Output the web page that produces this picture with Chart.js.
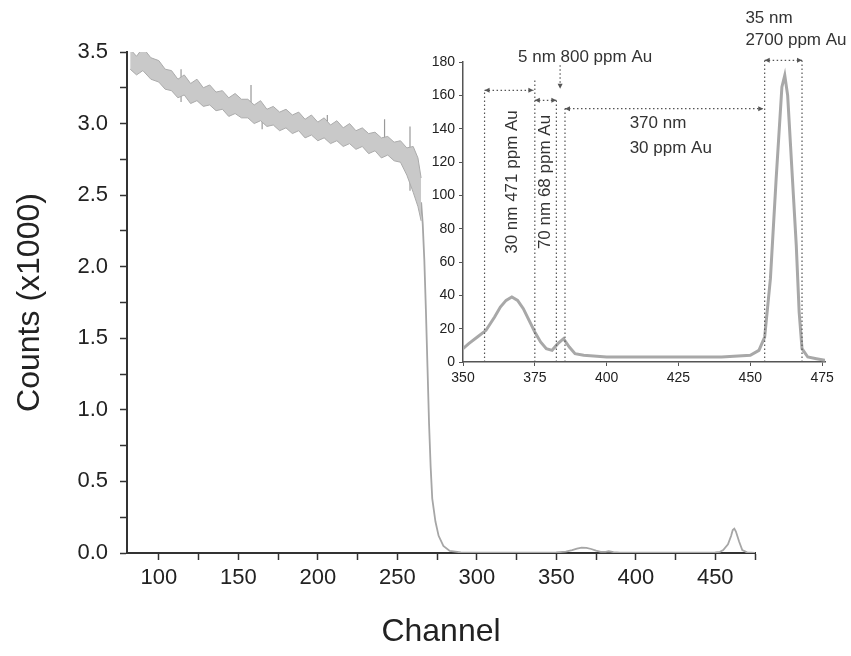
<!DOCTYPE html>
<html><head><meta charset="utf-8">
<script src="https://cdn.jsdelivr.net/npm/chart.js@4/dist/chart.umd.min.js"></script>
<style>
html,body{margin:0;padding:0;background:#fff;}
#wrap{position:relative;width:851px;height:656px;overflow:hidden;}
#main{position:absolute;left:0;top:0;}
#inset{position:absolute;left:400px;top:0;}
</style></head><body>
<div id="wrap">
<canvas id="main" width="851" height="656"></canvas>
<canvas id="inset" width="451" height="400"></canvas>
</div>
<script>
// ---------- main spectrum (Counts x1000 vs Channel) ----------
// noisy region drawn as a band: upper / lower envelope of the scatter
const bandChannels = [82,86,90,95,100,104,108,112,116,120,124,128,132,136,140,144,148,152,156,160,164,168,172,176,180,184,188,192,196,200,204,208,212,216,220,224,228,232,236,240,244,248,252,256,260,263,265];
const bandUpper    = [3.52,3.47,3.53,3.46,3.44,3.38,3.37,3.31,3.34,3.28,3.31,3.25,3.27,3.22,3.23,3.18,3.21,3.17,3.17,3.13,3.16,3.10,3.12,3.08,3.10,3.06,3.08,3.03,3.06,3.01,3.04,2.99,3.02,2.97,3.00,2.95,2.97,2.93,2.94,2.90,2.91,2.87,2.88,2.83,2.84,2.76,2.62];
const bandLower    = [3.38,3.34,3.37,3.31,3.29,3.24,3.23,3.18,3.20,3.14,3.16,3.12,3.13,3.09,3.10,3.05,3.07,3.04,3.04,3.00,3.02,2.98,2.99,2.95,2.97,2.93,2.95,2.90,2.92,2.88,2.90,2.86,2.88,2.84,2.86,2.82,2.84,2.79,2.81,2.76,2.78,2.74,2.73,2.64,2.52,2.42,2.32];
// isolated noise spikes (channel, top, bottom)
const spikeChannels = [114,158,165,206,242,258];
const spikeTops     = [3.38,3.27,3.12,3.06,3.03,2.98];
const spikeBottoms  = [3.15,3.04,2.96,2.91,2.79,2.53];
// fall-off and the small peaks
const tailChannels = [265,266,267,268,269,270,271,272,274,276,279,283,290,320,350,356,360,363,366,369,372,375,378,381,383,386,390,420,450,453,455,458,460,461,462,463,465,467,470,475];
const tailCounts   = [2.45,2.30,2.05,1.70,1.30,0.90,0.60,0.38,0.22,0.12,0.05,0.015,0.004,0.003,0.004,0.01,0.02,0.03,0.038,0.036,0.028,0.016,0.008,0.008,0.012,0.006,0.003,0.003,0.004,0.008,0.02,0.06,0.12,0.16,0.17,0.15,0.08,0.02,0.004,0.0];
const mainXTicks = [100,125,150,175,200,225,250,275,300,325,350,375,400,425,450,475];
const mainYTicks = [0,0.25,0.5,0.75,1.0,1.25,1.5,1.75,2.0,2.25,2.5,2.75,3.0,3.25,3.5];

// ---------- inset (Counts vs Channel, zoom 350-475) ----------
const insetChannels = [350,352,355,358,361,363,365,367,369,371,373,375,377,379,381,383,385,387,389,392,400,420,440,450,453,455,457,459,461,462,463,464,465,466,467,468,470,473,476];
const insetCounts   = [8,11,15,19,27,33,37,39,37,32,25,18,12,8,7,11,14,9,5,4,3,3,3,4,7,15,50,110,165,172,160,130,100,70,30,8,3,2,1];
const insetXTicks = [350,375,400,425,450,475];
const insetYTicks = [0,20,40,60,80,100,120,140,160,180];

// annotation brackets (channel, counts)
const annoVLines = [[357.5,163],[375,169],[382.5,158],[385.5,153],[455,181],[468,181]];
const annoHLines = [[357.5,374.5,163],[375,382.5,157],[385.5,454.5,152],[455,468,181]];
const annoPointer = [383.8,178,164];
const annoTexts = [
  {x:392.5, y:183, text:'5 nm 800 ppm Au', align:'center', rot:0},
  {x:408, y:143, text:'370 nm', align:'left', rot:0},
  {x:408, y:128, text:'30 ppm Au', align:'left', rot:0},
  {x:448.3, y:206, text:'35 nm', align:'left', rot:0},
  {x:448.3, y:193, text:'2700 ppm Au', align:'left', rot:0},
  {x:367, y:108, text:'30 nm 471 ppm Au', align:'center', rot:-90},
  {x:378.6, y:108, text:'70 nm 68 ppm Au', align:'center', rot:-90}
];

const FAM = "'Liberation Sans', Arial, sans-serif";
const TXT = '#222';

function pts(xs, ys){ return xs.map((x,i)=>({x:x, y:ys[i]})); }
function isMult(v, m){ return Math.abs(v/m - Math.round(v/m)) < 1e-9; }
function spikePts(){
  const out = [];
  spikeChannels.forEach((x,i)=>{ out.push({x:x,y:spikeTops[i]}); out.push({x:x,y:spikeBottoms[i]}); out.push({x:x+0.01,y:null}); });
  return out;
}

new Chart(document.getElementById('main'), {
  type:'line',
  data:{ datasets:[
    { data: pts(bandChannels, bandUpper), borderColor:'#ababab', borderWidth:1, pointRadius:0, tension:0, fill:false },
    { data: pts(bandChannels, bandLower), borderColor:'#ababab', borderWidth:1, pointRadius:0, tension:0, fill:'-1', backgroundColor:'#c9c9c9' },
    { data: spikePts(), borderColor:'#999999', borderWidth:1.2, pointRadius:0, tension:0, fill:false, spanGaps:false },
    { data: pts(tailChannels, tailCounts), borderColor:'#a6a6a6', borderWidth:1.8, pointRadius:0, tension:0, fill:false }
  ]},
  options:{
    responsive:false, devicePixelRatio:1, animation:false,
    layout:{ padding:{ top:52, right:96, left:0, bottom:0 } },
    plugins:{ legend:{display:false}, tooltip:{enabled:false} },
    scales:{
      x:{ type:'linear', min:80, max:475,
        afterFit: s => { s.height = 103; },
        afterBuildTicks: s => { s.ticks = mainXTicks.map(v=>({value:v})); },
        ticks:{ autoSkip:false, maxRotation:0, color:TXT, padding:5, font:{size:22, family:FAM},
          callback: v => isMult(v,50) ? String(v) : '' },
        grid:{ drawOnChartArea:false, tickLength:7, tickColor:'#333', tickWidth:1.5 },
        border:{ color:'#333', width:2 },
        title:{ display:true, text:'Channel', color:TXT, font:{size:32, family:FAM}, padding:{top:0,bottom:5} }
      },
      y:{ type:'linear', min:0, max:3.5,
        afterFit: s => { s.width = 127; },
        afterBuildTicks: s => { s.ticks = mainYTicks.map(v=>({value:v})); },
        ticks:{ autoSkip:false, color:TXT, padding:12, font:{size:22, family:FAM},
          callback: v => isMult(v,0.5) ? v.toFixed(1) : '' },
        grid:{ drawOnChartArea:false, tickLength:7, tickColor:'#333', tickWidth:1.5 },
        border:{ color:'#333', width:2 },
        title:{ display:true, text:'Counts (x1000)', color:TXT, font:{size:32, family:FAM}, padding:{top:11,bottom:0} }
      }
    }
  }
});

const annoPlugin = {
  id:'anno',
  afterDatasetsDraw(chart){
    const c = chart.ctx, X = chart.scales.x, Y = chart.scales.y;
    const px = v => X.getPixelForValue(v), py = v => Y.getPixelForValue(v);
    c.save();
    c.strokeStyle = '#555'; c.fillStyle = '#555'; c.lineWidth = 1.2;
    c.setLineDash([1.5,2.5]);
    annoVLines.forEach(([x,top]) => { c.beginPath(); c.moveTo(px(x), py(0)); c.lineTo(px(x), py(top)); c.stroke(); });
    annoHLines.forEach(([x1,x2,y]) => { c.beginPath(); c.moveTo(px(x1), py(y)); c.lineTo(px(x2), py(y)); c.stroke(); });
    c.beginPath(); c.moveTo(px(annoPointer[0]), py(annoPointer[1])); c.lineTo(px(annoPointer[0]), py(annoPointer[2])); c.stroke();
    c.setLineDash([]);
    const arrow = (x, y, dx, dy) => {
      c.beginPath(); c.moveTo(x, y);
      c.lineTo(x - dx*5 - dy*2.5, y - dy*5 - dx*2.5);
      c.lineTo(x - dx*5 + dy*2.5, y - dy*5 + dx*2.5);
      c.closePath(); c.fill();
    };
    annoHLines.forEach(([x1,x2,y]) => { arrow(px(x1), py(y), -1, 0); arrow(px(x2), py(y), 1, 0); });
    arrow(px(annoPointer[0]), py(annoPointer[2]), 0, 1);
    c.fillStyle = '#333';
    c.font = '17px ' + FAM;
    c.textBaseline = 'middle';
    annoTexts.forEach(t => {
      c.save();
      c.translate(px(t.x), py(t.y));
      c.rotate(t.rot * Math.PI/180);
      c.textAlign = t.align;
      c.fillText(t.text, 0, 0);
      c.restore();
    });
    c.restore();
  }
};

new Chart(document.getElementById('inset'), {
  type:'line',
  data:{ datasets:[{ data: pts(insetChannels, insetCounts), borderColor:'#a8a8a8', borderWidth:3, pointRadius:0, tension:0, fill:false }]},
  options:{
    responsive:false, devicePixelRatio:1, animation:false,
    layout:{ padding:{ top:62, right:26, left:0, bottom:0 } },
    plugins:{ legend:{display:false}, tooltip:{enabled:false} },
    scales:{
      x:{ type:'linear', min:350, max:476,
        afterFit: s => { s.height = 38; },
        afterBuildTicks: s => { s.ticks = insetXTicks.map(v=>({value:v})); },
        ticks:{ autoSkip:false, maxRotation:0, color:TXT, padding:4, font:{size:14, family:FAM} },
        grid:{ drawOnChartArea:false, tickLength:4, tickColor:'#555' },
        border:{ color:'#555', width:1.5, dash:[2,2] }
      },
      y:{ type:'linear', min:0, max:180,
        afterFit: s => { s.width = 63; },
        afterBuildTicks: s => { s.ticks = insetYTicks.map(v=>({value:v})); },
        ticks:{ autoSkip:false, color:TXT, padding:4, font:{size:14, family:FAM} },
        grid:{ drawOnChartArea:false, tickLength:4, tickColor:'#555' },
        border:{ color:'#555', width:1.5, dash:[2,2] }
      }
    }
  },
  plugins:[annoPlugin]
});
</script>
</body></html>
